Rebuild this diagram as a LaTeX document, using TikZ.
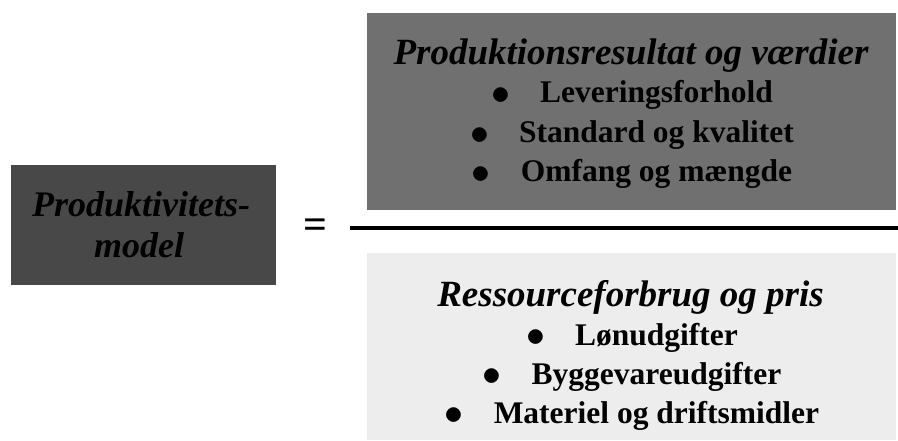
\RequirePackage{fix-cm}
\documentclass[tikz,border=0pt]{standalone}
\usepackage{fontspec}
\setmainfont{Liberation Serif}
\usetikzlibrary{positioning}
\colorlet{background}{white}
\definecolor{darkBox}{HTML}{484848}
\definecolor{midBox}{HTML}{707070}
\definecolor{lightBox}{HTML}{EDEDED}
\tikzset{
  box/.style={inner sep=0pt, outer sep=0pt},
  head/.style={anchor=base, inner sep=0pt, font=\fontsize{37}{44}\selectfont\bfseries\itshape},
  item/.style={anchor=base, inner sep=0pt, font=\fontsize{31.5}{38}\selectfont\bfseries},
}
\newcommand{\bigBullet}{\raisebox{-1.6pt}{\scalebox{1.2}{$\bullet$}}}
\newcommand{\bulletItem}[1]{\bigBullet\hspace{30pt}#1}
\begin{document}
\begin{tikzpicture}[x=1pt,y=-1pt]
	\useasboundingbox (0,0) rectangle (898,441);
	% left box
	\node [box, fill=darkBox, minimum width=265pt, minimum height=120pt] (model) at (143.5,225) {};
	\node [head, font=\fontsize{36}{44}\selectfont\bfseries\itshape] (modelA) at (141,217) {Produktivitets-};
	\node [head, font=\fontsize{36}{44}\selectfont\bfseries\itshape] (modelB) at (139,258) {model};
	\node [inner sep=0pt, font=\fontsize{42}{44}\selectfont\bfseries] (eq) at (315,228.5) {=};
	% numerator
	\node [box, fill=midBox, minimum width=529pt, minimum height=197pt] (num) at (631.5,111.5) {};
	\node [head] (numHead) at (631,65) {Produktionsresultat og værdier};
	\node [item] (numA) at (632,103) {\bulletItem{Leveringsforhold}};
	\node [item] (numB) at (632,143) {\bulletItem{Standard og kvalitet}};
	\node [item] (numC) at (632,182) {\bulletItem{Omfang og mængde}};
	% fraction bar
	\coordinate (barL) at (350,228);
	\coordinate (barR) at (898,228);
	\draw [line width=4pt] (barL) -- (barR);
	% denominator
	\node [box, fill=lightBox, minimum width=529pt, minimum height=187pt] (den) at (631.5,346.5) {};
	\node [head] (denHead) at (630.5,306) {Ressourceforbrug og pris};
	\node [item] (denA) at (632,345) {\bulletItem{Lønudgifter}};
	\node [item] (denB) at (632,384) {\bulletItem{Byggevareudgifter}};
	\node [item] (denC) at (632,423) {\bulletItem{Materiel og driftsmidler}};
\end{tikzpicture}
\end{document}
